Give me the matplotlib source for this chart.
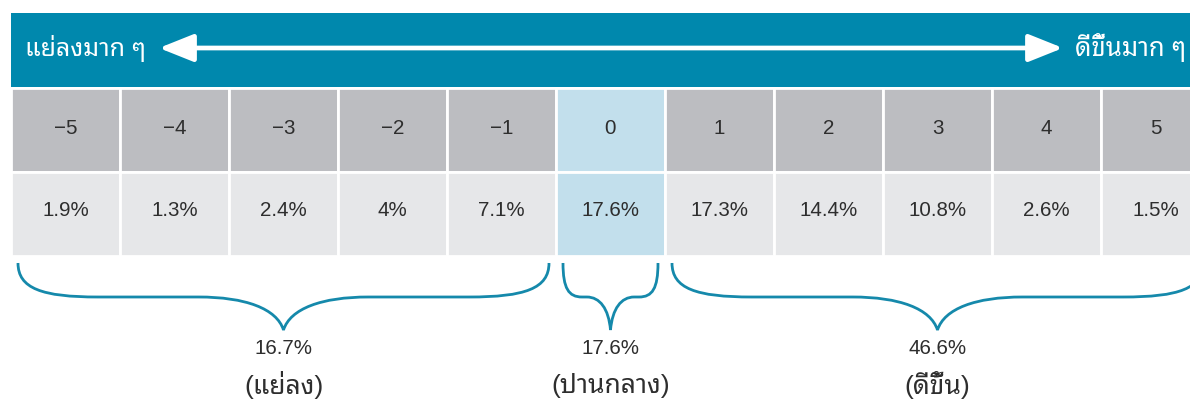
import matplotlib
matplotlib.use("Agg")
import matplotlib.pyplot as plt
from matplotlib.path import Path
from matplotlib.patches import PathPatch, FancyArrowPatch, Rectangle
import numpy as np

# ---------------- data ----------------
scale_labels = ["\u22125", "\u22124", "\u22123", "\u22122", "\u22121", "0", "1", "2", "3", "4", "5"]
pct_values = [1.9, 1.3, 2.4, 4, 7.1, 17.6, 17.3, 14.4, 10.8, 2.6, 1.5]
highlight_index = 5
group_spans = [(0, 4), (5, 5), (6, 10)]
group_totals = ["16.7%", "17.6%", "46.6%"]
group_names = ["(แย่ลง)", "(ปานกลาง)", "(ดีขึ้น)"]
header_left = "แย่ลงมาก ๆ"
header_right = "ดีขึ้นมาก ๆ"

# ---------------- style ----------------
TEAL = "#0088AD"
GRAY = "#BCBDC1"
LIGHT = "#E6E7E9"
BLUE = "#C2DFEC"
BRACE = "#1589AB"
TXT = "#2E2E2E"
FAM = ["Liberation Sans", "Noto Sans Thai Looped"]

W, H = 1190, 400
fig = plt.figure(figsize=(W / 100, H / 100), dpi=100)
ax = fig.add_axes([0, 0, 1, 1])
COLW = 109.0
X0 = 11.0


def px2x(px):
    return (px - X0) / COLW - 0.5


ax.set_xlim(px2x(0), px2x(W))
ax.set_ylim(H, 0)
ax.axis("off")

n = len(pct_values)
xs = np.arange(n)

# header band
ax.add_patch(Rectangle((px2x(X0), 13), px2x(W + 5) - px2x(X0), 74, facecolor=TEAL,
                       edgecolor="none", zorder=1))

# header arrow
arr = FancyArrowPatch((px2x(159), 48), (px2x(1063), 48),
                      arrowstyle="<|-|>,head_length=1.05,head_width=0.42",
                      mutation_scale=20, lw=3.4, color="white",
                      shrinkA=0, shrinkB=0, zorder=3)
ax.add_patch(arr)
ax.text(px2x(25), 48, header_left, color="white", fontsize=18, fontweight="bold",
        family=FAM, ha="left", va="center", zorder=4)
ax.text(px2x(1075), 48, header_right, color="white", fontsize=18.5, fontweight="bold",
        family=FAM, ha="left", va="center", zorder=4)

# cells
row1_top, row1_h = 88, 84
row2_top, row2_h = 172, 84
top_colors = [BLUE if i == highlight_index else GRAY for i in range(n)]
bot_colors = [BLUE if i == highlight_index else LIGHT for i in range(n)]
ax.bar(xs, [row1_h] * n, bottom=row1_top, width=1.0, color=top_colors,
       edgecolor="white", linewidth=2, zorder=2)
ax.bar(xs, [row2_h] * n, bottom=row2_top, width=1.0, color=bot_colors,
       edgecolor="white", linewidth=2, zorder=2)

for i in range(n):
    ax.text(xs[i], 128, scale_labels[i], ha="center", va="center",
            fontsize=14.8, color=TXT, family=FAM, zorder=4)
    s = ("%g" % pct_values[i]) + "%"
    ax.text(xs[i], 210, s, ha="center", va="center",
            fontsize=14.8, color=TXT, family=FAM, zorder=4)


# braces
def brace(xa, xb, ytop=263, ymid=297, ytip=330, r_px=80, d_px=85):
    xm = (xa + xb) / 2.0
    half = (xb - xa) / 2.0 * COLW
    r = min(r_px, half * 0.4) / COLW
    d = min(d_px, half * 0.5) / COLW
    h = ymid - ytop
    t = ytip - ymid
    verts = [
        (xa, ytop),
        (xa, ytop + h * 0.75), (xa + r * 0.3, ymid), (xa + r, ymid),
        (xm - d, ymid),
        (xm - d * 0.45, ymid), (xm - d * 0.08, ymid + t * 0.35), (xm, ytip),
        (xm + d * 0.08, ymid + t * 0.35), (xm + d * 0.45, ymid), (xm + d, ymid),
        (xb - r, ymid),
        (xb - r * 0.3, ymid), (xb, ytop + h * 0.75), (xb, ytop),
    ]
    codes = [Path.MOVETO,
             Path.CURVE4, Path.CURVE4, Path.CURVE4,
             Path.LINETO,
             Path.CURVE4, Path.CURVE4, Path.CURVE4,
             Path.CURVE4, Path.CURVE4, Path.CURVE4,
             Path.LINETO,
             Path.CURVE4, Path.CURVE4, Path.CURVE4]
    return Path(verts, codes)


inset = 7 / COLW
for (a, b), tot, name in zip(group_spans, group_totals, group_names):
    xa = xs[a] - 0.5 + inset
    xb = xs[b] + 0.5 - inset
    ax.add_patch(PathPatch(brace(xa, xb), facecolor="none", edgecolor=BRACE,
                           lw=2.0, capstyle="butt", joinstyle="miter", zorder=3))
    xm = (xa + xb) / 2.0
    ax.text(xm, 349, tot, ha="center", va="center", fontsize=14.8, color=TXT,
            family=FAM, zorder=4)
    ax.text(xm, 385, name, ha="center", va="center", fontsize=19, color=TXT,
            family=FAM, zorder=4)

fig.savefig("out.png", dpi=100)
